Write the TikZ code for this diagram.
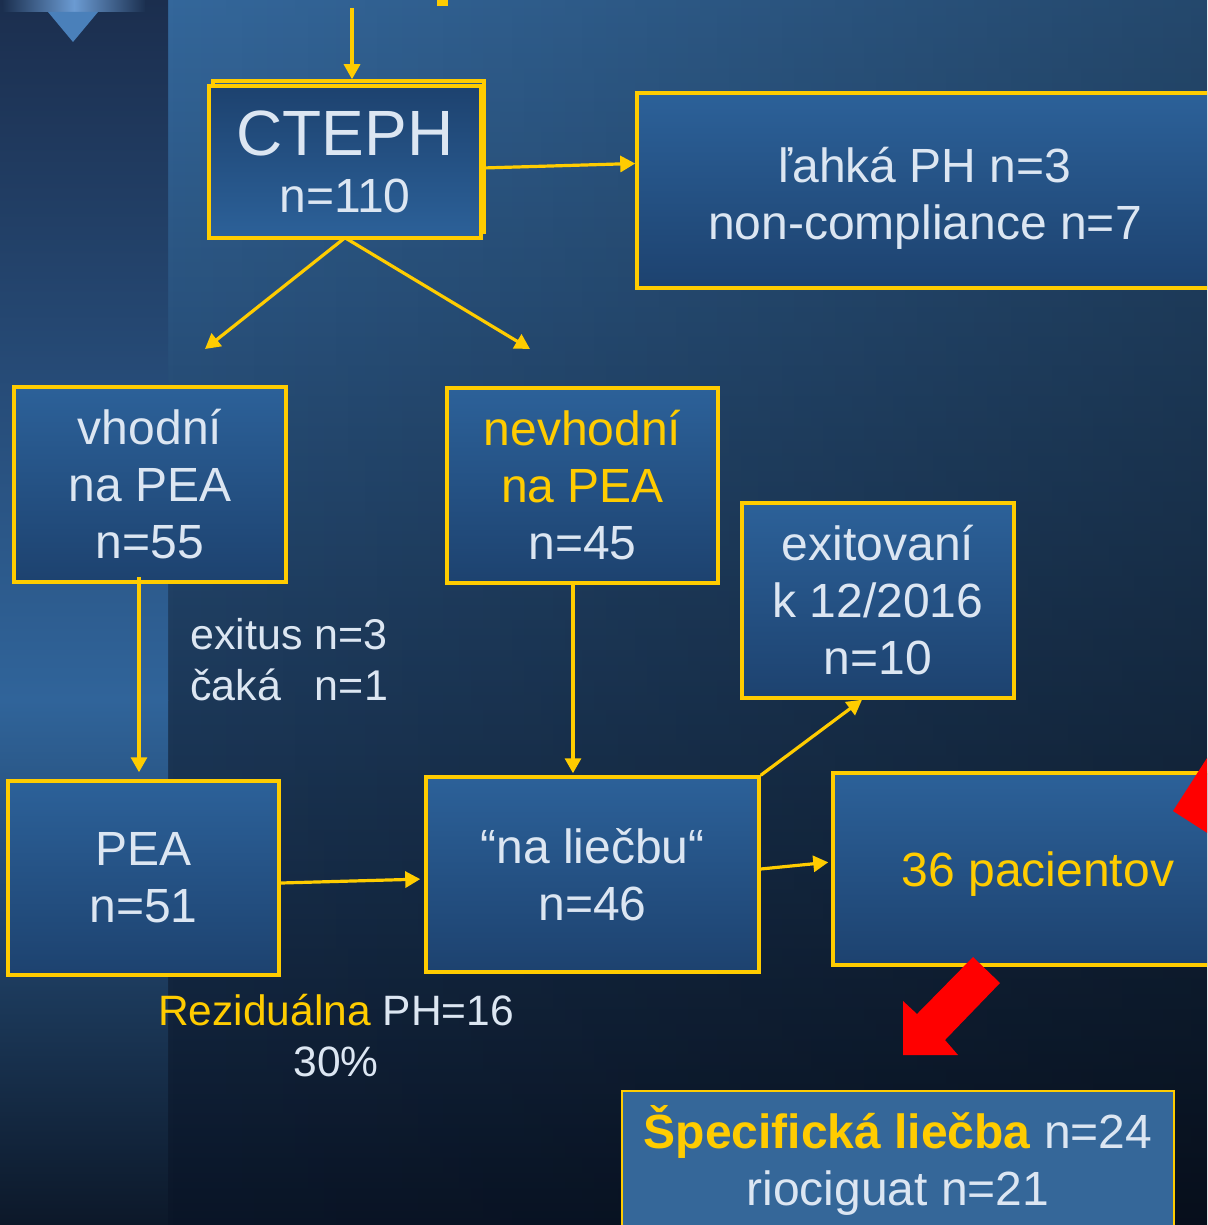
\documentclass[tikz,border=0pt]{standalone}
\usepackage{fontspec}
\setmainfont{Liberation Sans}
\usetikzlibrary{arrows.meta,fadings}
\definecolor{ycol}{HTML}{FFCC00}
\definecolor{tcol}{HTML}{DCE6F2}
\definecolor{bgA}{HTML}{34679B}
\definecolor{bgB}{HTML}{1F4068}
\definecolor{bgC}{HTML}{0A1527}
\definecolor{lsA}{HTML}{1B2E4E}
\definecolor{lsB}{HTML}{30649A}
\definecolor{lsC}{HTML}{0C1829}
\definecolor{boxT}{HTML}{2C6199}
\definecolor{boxB}{HTML}{1D426F}
\definecolor{specfill}{HTML}{356799}
\definecolor{decoD}{HTML}{1C3050}
\definecolor{decoL}{HTML}{6B9BD2}
\definecolor{decoT}{HTML}{4A80BA}
\tikzfading[name=darkright, left color=transparent!100, right color=transparent!0]
\tikzset{
  box/.style={draw=ycol, line width=3.5pt, inner sep=0pt, align=center, text=tcol,
    font=\fontsize{48}{57}\selectfont, top color=boxT, bottom color=boxB},
  arr/.style={draw=ycol, line width=3.2pt, -{Triangle[length=15pt,width=16pt]}},
  lbl/.style={text=tcol, font=\fontsize{43}{51}\selectfont, inner sep=0pt}
}
\begin{document}
\begin{tikzpicture}[x=1pt,y=-1pt]
\useasboundingbox (0,0) rectangle (1207,1225);
\clip (0,0) rectangle (1207,1225);
% background
\shade[top color=bgA, middle color=bgB, bottom color=bgC] (168,0) rectangle (1207,1225);
\fill[black, path fading=darkright, fill opacity=0.3] (168,0) rectangle (1207,1225);
\shade[top color=lsA, bottom color=lsB] (0,0) rectangle (168,700);
\shade[top color=lsB, bottom color=lsC] (0,700) rectangle (168,1225);
% top-left decoration
\shade[left color=decoD, right color=decoD, middle color=decoL] (3,0) rectangle (145,12);
\fill[decoT] (48,12) -- (98,12) -- (73,42) -- cycle;
% small yellow mark at top
\fill[ycol] (437,0) rectangle (448,6);

% CTEPH with offset frame
\draw[ycol, line width=3.5pt] (213,81) rectangle (484,232);
\node[box, minimum width=272pt, minimum height=152pt, top color=boxB, bottom color=boxT] (cteph) at (345,162)
  {\fontsize{64}{72}\selectfont CTEPH\\\fontsize{48}{72}\selectfont n=110};

\node[box, minimum width=576pt, minimum height=195pt] (lahka) at (925,190.5)
  {\rule{0pt}{50pt}ľahká PH n=3\\non-compliance n=7};
\node[box, minimum width=272pt, minimum height=195pt] (vhodni) at (150,484.5)
  {vhodní\\na PEA\\n=55};
\node[box, minimum width=271pt, minimum height=195pt] (nevhodni) at (582.5,485.5)
  {{\color{ycol}nevhodní}\\{\color{ycol}na PEA}\\n=45};
\node[box, minimum width=272pt, minimum height=195pt] (exitovani) at (878,600.5)
  {exitovaní\\k 12/2016\\n=10};
\node[box, minimum width=271pt, minimum height=194pt] (pea) at (143.5,878)
  {PEA\\n=51};
\node[box, minimum width=333pt, minimum height=195pt] (liecbu) at (592.5,874.5)
  {“na liečbu“\\n=46};
\node[box, minimum width=410pt, minimum height=192pt, text=ycol] (p36) at (1038,869)
  {\rule{0pt}{45pt}36 pacientov};
\node[box, line width=2pt, fill=specfill, top color=specfill, bottom color=specfill,
  minimum width=552pt, minimum height=138pt, font=\fontsize{48}{57}\selectfont] (spec) at (898,1160)
  {{\bfseries\color{ycol}Špecifická liečba} n=24\\riociguat n=21};

% free labels
\node[lbl, anchor=west, align=left] (exitus) at (190,660)
  {exitus n=3\\čaká\hspace{34pt}n=1};
\node[lbl, align=center, font=\fontsize{42.5}{51}\selectfont] (rezid) at (336,1036)
  {{\color{ycol}Reziduálna} PH=16\\30\%};

% connectors
\coordinate (topin) at (352,8);
\coordinate (dl) at (205,349);
\coordinate (dr) at (530,349);
\draw[arr, shorten >=5pt] (topin) -- ([xshift=7pt]cteph.north);
\draw[arr] ([yshift=-6pt]cteph.east) -- ([yshift=27pt]lahka.west);
\draw[arr] ([yshift=2pt]cteph.south) -- (dl);
\draw[arr] ([yshift=2pt]cteph.south) -- (dr);
\draw[arr, shorten >=7pt] ([xshift=-11pt,yshift=7pt]vhodni.south) -- ([xshift=-4.5pt]pea.north);
\draw[arr, shorten >=2pt] ([xshift=-9.5pt]nevhodni.south) -- ([xshift=-19.5pt]liecbu.north);
\draw[arr, shorten >=4pt] ([yshift=-5pt]pea.east) -- ([yshift=-4.5pt]liecbu.west);
\draw[arr] (liecbu.north east) -- ([xshift=-16pt]exitovani.south);
\draw[arr, shorten >=3pt] ([yshift=5.5pt]liecbu.east) -- ([yshift=7pt]p36.west);

% red block arrows
\fill[red] (903,1001) -- (917,1014) -- (973,957) -- (1000,983) -- (945,1040) -- (958,1055) -- (903,1055) -- cycle;
\fill[red] (1173,811) -- (1241,705) -- (1347,773) -- (1279,879) -- cycle;
\end{tikzpicture}
\end{document}
